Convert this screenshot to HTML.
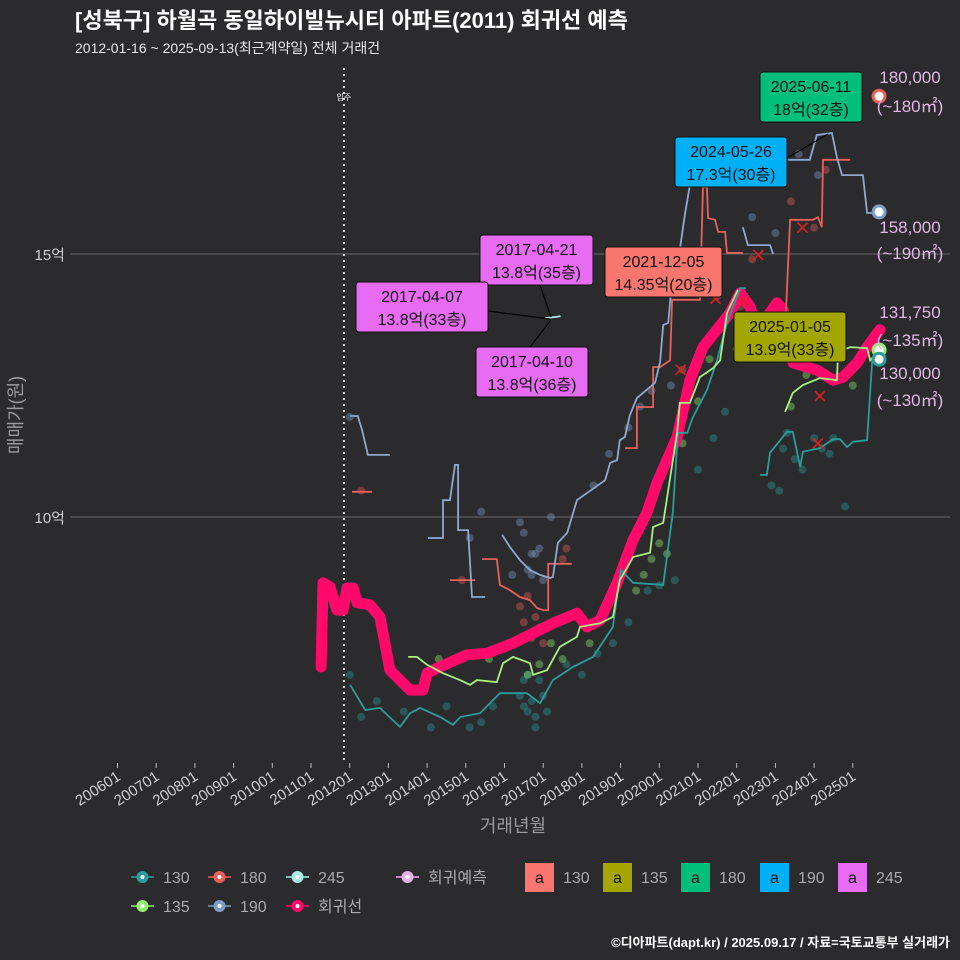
<!DOCTYPE html>
<html><head><meta charset="utf-8">
<style>
html,body{margin:0;padding:0;background:#2b2b2d;}
svg{display:block;font-family:"Liberation Sans","Noto Sans CJK KR",sans-serif;}
</style></head>
<body>
<svg id="chart" width="960" height="960" viewBox="0 0 960 960">
<rect width="960" height="960" fill="#2b2b2d"/>
<text x="75" y="28" fill="#ffffff" font-size="22" font-weight="bold">[성북구] 하월곡 동일하이빌뉴시티 아파트(2011) 회귀선 예측</text>
<text x="75" y="53" fill="#e8e8e8" font-size="14">2012-01-16 ~ 2025-09-13(최근계약일) 전체 거래건</text>
<g id="grid"></g>
<g id="marks"></g>
<g id="ann"></g>
<text transform="translate(22,415) rotate(-90)" text-anchor="middle" fill="#9a9a9a" font-size="18">매매가(원)</text>
<text x="513" y="832" text-anchor="middle" fill="#9a9a9a" font-size="18">거래년월</text>
<g id="legend"></g>
<text x="950" y="947" text-anchor="end" fill="#ffffff" font-size="13" font-weight="bold">©디아파트(dapt.kr) / 2025.09.17 / 자료=국토교통부 실거래가</text>
</svg>
<script>
// ---- data (year decimal, value in 억) ----
const yTicks=[10,15];
const yTickLabels=["10억","15억"];
const xTickYears=[2006,2007,2008,2009,2010,2011,2012,2013,2014,2015,2016,2017,2018,2019,2020,2021,2022,2023,2024,2025];
const xTickLabels=["200601","200701","200801","200901","201001","201101","201201","201301","201401","201501","201601","201701","201801","201901","202001","202101","202201","202301","202401","202501"];
const moveInYear=2011.85;

const regYears=[2011.26,2011.31,2011.49,2011.67,2011.83,2011.93,2012.09,2012.19,2012.52,2012.78,2012.86,2013.04,2013.30,2013.56,2013.89,2014.00,2014.33,2015.03,2015.55,2016.22,2016.74,2017.25,2017.87,2018.13,2018.47,2018.91,2019.32,2019.68,2019.94,2020.46,2020.79,2021.13,2021.49,2021.83,2022.09,2022.34,2022.53,2022.78,2023.04,2023.20,2023.46,2024.08,2024.49,2024.75,2025.11,2025.37,2025.70];
const regValues=[7.15,8.75,8.67,8.23,8.23,8.65,8.65,8.37,8.33,8.10,7.79,7.09,6.90,6.71,6.71,7.03,7.15,7.38,7.41,7.60,7.79,7.98,8.17,7.91,8.04,8.75,9.56,10.08,10.65,11.52,12.60,13.23,13.56,13.88,14.26,14.00,13.61,13.80,14.07,13.94,12.93,12.79,12.60,12.66,12.93,13.23,13.56];

const s130Years=[2012.01,2012.40,2012.78,2013.30,2013.56,2013.82,2014.33,2014.67,2014.86,2015.37,2015.88,2016.58,2016.92,2017.25,2017.77,2018.29,2018.80,2018.93,2019.01,2019.32,2020.10,2020.35,2020.48,2020.72,2020.87,2021.23,2021.49,2021.75,2022.09,2022.24,null,2022.60,2022.78,2022.86,2023.30,2023.45,2023.64,2023.71,2024.15,2024.49,2024.67,2024.85,2025.01,2025.37,2025.50,2025.68];
const s130Values=[6.81,6.33,6.37,6.01,6.27,6.37,6.20,6.05,6.20,6.27,6.65,6.65,6.46,6.90,7.15,7.34,7.91,8.61,8.99,8.75,8.71,10.08,11.60,11.60,11.90,12.41,12.98,13.69,14.35,14.35,null,10.80,10.80,11.22,11.62,11.62,10.95,11.24,11.31,11.48,11.48,11.33,11.43,11.46,12.98,13.00];

const s135Years=[2013.51,2013.74,2014.00,2014.41,2014.85,2015.11,2015.29,2015.80,2015.96,2016.22,2016.66,2016.74,2017.10,2017.43,2017.87,2017.95,2018.47,2018.80,2018.98,2019.24,2019.32,2019.76,2019.84,2020.10,2020.46,2020.53,2020.79,2021.05,2021.39,2021.57,2021.75,2022.03,null,2023.25,2023.45,2023.71,2024.15,2024.59,2024.62,2024.93,2025.37,2025.45,2025.68];
const s135Values=[7.34,7.34,7.19,7.03,6.90,6.81,6.90,6.86,7.22,7.34,7.22,7.00,7.09,7.53,7.72,7.91,7.98,8.10,8.80,9.13,9.24,9.32,9.81,9.89,11.60,12.17,12.17,12.66,12.83,12.98,13.88,14.32,null,12.00,12.36,12.51,12.64,12.60,13.14,13.23,13.21,12.98,13.175];

const s180Years=[2012.06,2012.58,null,2014.59,2015.24,null,2015.42,2015.80,2015.88,2016.14,2016.40,2016.66,2016.84,2017.00,2017.13,2017.13,2017.33,2017.74,null,2019.11,2019.42,2019.42,2019.55,2019.76,2019.84,2019.84,2020.02,2020.28,2020.33,2020.53,2021.05,2021.13,2021.23,2021.26,2021.44,2021.52,2021.70,2021.75,2022.16,null,2023.25,2023.38,2023.64,2023.97,2024.10,2024.20,2024.23,2024.49,2024.93];
const s180Values=[10.48,10.48,null,8.80,8.80,null,9.20,9.20,8.71,8.61,8.48,8.42,8.27,8.23,8.23,9.11,9.11,9.11,null,11.31,11.31,12.09,12.09,12.09,12.09,12.85,12.85,12.98,14.13,14.13,14.13,16.27,16.27,15.68,15.65,15.42,15.42,15.02,15.02,null,13.56,15.65,15.65,15.65,15.70,15.51,16.79,16.79,16.79];

const s190Years=[2012.01,2012.21,2012.32,2012.47,2013.04,null,2014.02,2014.41,2014.41,2014.59,2014.72,2014.80,2014.80,2015.06,2015.16,2015.50,null,2015.94,2016.14,2016.40,2016.66,2016.92,2017.18,2017.25,2017.38,2017.62,2017.87,2018.60,2018.73,2018.91,2018.98,2019.11,2019.24,2019.42,2019.76,2019.89,2020.02,2020.10,2020.23,2020.33,2020.53,2020.66,2020.79,2020.97,null,2022.16,2022.29,2022.86,2022.94,null,2023.33,2023.89,2024.07,2024.46,2024.59,2024.72,2025.26,2025.37,2025.68];
const s190Values=[11.92,11.92,11.65,11.18,11.18,null,9.60,9.60,10.32,10.32,10.99,10.99,9.75,9.75,8.48,8.48,null,9.66,9.43,9.18,8.99,8.90,8.84,8.86,9.51,9.70,10.32,10.70,11.03,11.08,11.46,11.52,11.94,12.26,12.47,12.55,12.95,13.65,13.69,14.51,15.08,15.74,16.31,16.79,null,15.51,15.17,15.17,15.00,null,16.79,16.79,17.26,17.30,16.84,16.50,16.50,15.78,15.78];

const s245Years=[2017.05,2017.27,2017.30,2017.45];
const s245Values=[13.78,13.8,13.8,13.82];

const dots130Years=[2012.0,2012.3,2012.7,2013.4,2014.1,2014.5,2015.1,2015.4,2015.7,2016.4,2016.5,2016.6,2016.7,2016.8,2016.9,2017.0,2016.6,2016.5,2017.1,2016.8,2017.6,2018.0,2018.4,2018.8,2019.2,2019.7,2020.0,2020.4,2021.0,2021.4,2021.7,2022.9,2023.2,2023.5,2023.7,2024.0,2024.2,2024.4,2023.3,2023.1,2024.8,2024.5];
const dots130Values=[7.0,6.2,6.5,6.3,6.0,6.4,6.0,6.1,6.4,6.6,6.9,6.3,6.5,6.2,6.9,6.6,7.0,6.4,6.3,6.0,7.2,7.0,7.4,7.6,8.0,8.6,8.7,8.8,10.9,11.5,12.0,10.6,11.3,11.1,10.9,11.5,11.3,11.2,11.6,10.5,10.2,11.5];
const dots135Years=[2014.3,2015.6,2016.0,2016.5,2016.6,2016.9,2017.2,2017.5,2018.2,2019.4,2019.6,2019.8,2020.0,2020.2,2020.6,2021.0,2021.3,2022.0,2023.4,2023.8,2024.3,2024.7,2025.0];
const dots135Values=[7.3,7.3,7.5,7.7,7.0,7.2,7.6,7.3,7.6,8.6,8.9,9.2,9.5,9.3,11.4,12.2,13.0,13.2,12.1,12.7,13.4,13.8,12.5];
const dots180Years=[2016.4,2016.6,2016.8,2016.5,2016.9,2016.7,2017.0,2017.5,2017.6,2014.9,2012.3,2020.6,2021.5,2022.1,2023.4,2024.0,2024.3,2022.4];
const dots180Values=[8.3,8.5,8.1,8.0,7.9,7.7,7.6,9.2,9.4,8.8,10.5,12.8,14.2,14.0,16.0,15.5,16.6,14.9];
const dots190Years=[2015.1,2015.4,2016.2,2016.4,2016.5,2016.6,2016.7,2016.8,2016.9,2017.0,2016.7,2017.2,2012.0,2018.3,2018.7,2019.2,2019.5,2019.8,2020.3,2021.2,2022.4,2023.0,2023.6,2024.1];
const dots190Values=[9.6,10.1,8.9,9.9,9.7,9.0,8.9,9.3,9.4,8.8,9.3,10.0,11.9,10.6,11.2,11.7,12.1,12.4,12.5,14.4,15.7,15.4,16.9,16.5];
const crossYears=[2020.55,2021.45,2022.56,2023.7,2024.15,2024.1,2022.2];
const crossValues=[12.8,14.15,14.98,15.5,12.3,11.4,14.1];

const endYears=[2025.68,2025.68,2025.68,2025.68];
const endValues=[18.0,15.8,13.175,13.0];
const endColors=["#e8605a","#7f9cc7","#90ee70","#2a9d9a"];

// ---- scales ----
const X=y=>117.5+(y-2006)*38.7;
const Y=v=>517-(v-10)*52.6;
const NS="http://www.w3.org/2000/svg";
function mk(tag,attrs,parent){const e=document.createElementNS(NS,tag);for(const k in attrs)e.setAttribute(k,attrs[k]);parent.appendChild(e);return e;}
const grid=document.getElementById('grid'),marks=document.getElementById('marks'),ann=document.getElementById('ann'),legend=document.getElementById('legend');

yTicks.forEach((v,i)=>{
  const l=mk('line',{x1:70,x2:950,y1:Y(v),y2:Y(v),stroke:'#6a6a6a','stroke-width':1},grid);
  
  
  const t=mk('text',{x:65,y:Y(v)+6,'text-anchor':'end',fill:'#cfcfcf','font-size':15},grid);
  t.textContent=yTickLabels[i];
  
  
});
xTickYears.forEach((yr,i)=>{
  const tk=mk('line',{x1:X(yr),x2:X(yr),y1:763,y2:768,stroke:'#bbbbbb'},grid);
  
  
  const t=mk('text',{transform:`translate(${X(yr)+4},${779}) rotate(-33)`,'text-anchor':'end',fill:'#cfcfcf','font-size':15},grid);
  t.textContent=xTickLabels[i];
  
  
});
const mv=mk('line',{x1:X(moveInYear),x2:X(moveInYear),y1:68,y2:762,stroke:'#dddddd','stroke-width':2,'stroke-dasharray':'2,4'},grid);


const mvt=mk('text',{x:X(moveInYear),y:100,'text-anchor':'middle',fill:'#ffffff','font-size':8},grid);
mvt.textContent='입주';



function pathOf(xs,vs){let d='',pen=false;xs.forEach((x,i)=>{if(x===null||vs[i]===null){pen=false;return;}d+=(pen?'L':'M')+X(x).toFixed(1)+','+Y(vs[i]).toFixed(1);pen=true;});return d;}
function dots(xs,vs,color,name){xs.forEach((x,i)=>{const c=mk('circle',{cx:X(x),cy:Y(vs[i]),r:4,fill:color,'fill-opacity':0.4},marks);});}
dots(dots130Years,dots130Values,'#2a9d9a','dot-130');
dots(dots135Years,dots135Values,'#90ee70','dot-135');
dots(dots180Years,dots180Values,'#e8605a','dot-180');
dots(dots190Years,dots190Values,'#7f9cc7','dot-190');

const reg=mk('path',{d:pathOf(regYears,regValues),fill:'none',stroke:'#ff0a6a','stroke-width':11,'stroke-linejoin':'round','stroke-linecap':'round'},marks);


[[s130Years,s130Values,'#2a9d9a','line-130'],[s135Years,s135Values,'#a8f080','line-135'],[s180Years,s180Values,'#e8605a','line-180'],[s190Years,s190Values,'#8fa8d0','line-190'],[s245Years,s245Values,'#a8ece4','line-245']].forEach(s=>{
  const p=mk('path',{d:pathOf(s[0],s[1]),fill:'none',stroke:s[2],'stroke-width':1.8},marks);
  
  
});
crossYears.forEach((x,i)=>{
  const cx=X(x),cy=Y(crossValues[i]);
  const p=mk('path',{d:`M${cx-5},${cy-5}L${cx+5},${cy+5}M${cx-5},${cy+5}L${cx+5},${cy-5}`,stroke:'#e02020','stroke-width':1.6},marks);
  
  
});
endYears.forEach((x,i)=>{
  const c=mk('circle',{cx:X(x),cy:Y(endValues[i]),r:6,fill:'#ffffff',stroke:endColors[i],'stroke-width':3},marks);
  
  
});

// right labels
const rl=[["180,000",83],["(~180㎡)",112],["158,000",233],["(~190㎡)",259],["131,750",318],["(~135㎡)",346],["130,000",379],["(~130㎡)",406]];
rl.forEach(r=>{const t=mk('text',{x:910,y:r[1],'text-anchor':'middle',fill:'#e2b6e6','font-size':17},ann);t.textContent=r[0];});

// annotation boxes
const leaders=[[787,158,828,134],[488,311,550,319],[540,285,551,317],[530,347,551,320]];
leaders.forEach(l=>{const e=mk('line',{x1:l[0],y1:l[1],x2:l[2],y2:l[3],stroke:'#000','stroke-width':1.2},ann);});
const boxes=[[760,72,102,50,'#00bf7d','2025-06-11','18억(32층)'],[675,137,112,50,'#00b0f6','2024-05-26','17.3억(30층)'],[605,247,117,50,'#f8766d','2021-12-05','14.35억(20층)'],[734,312,112,50,'#a3a500','2025-01-05','13.9억(33층)'],[480,235,113,50,'#e76bf3','2017-04-21','13.8억(35층)'],[356,282,132,50,'#e76bf3','2017-04-07','13.8억(33층)'],[476,347,112,50,'#e76bf3','2017-04-10','13.8억(36층)']];
boxes.forEach(b=>{
  const g=mk('g',{},ann);
  
  
  mk('rect',{x:b[0],y:b[1],width:b[2],height:b[3],rx:3,fill:b[4],stroke:'#111','stroke-width':1},g);
  const t1=mk('text',{x:b[0]+b[2]/2,y:b[1]+20,'text-anchor':'middle',fill:'#111','font-size':16},g);t1.textContent=b[5];
  const t2=mk('text',{x:b[0]+b[2]/2,y:b[1]+43,'text-anchor':'middle',fill:'#111','font-size':16},g);t2.textContent=b[6];
});

// legend
const lg=[[130,877,'#2a9d9a','130'],[207,877,'#e8605a','180'],[285,877,'#a8ece4','245'],[395,877,'#e6b0ea','회귀예측'],[130,906,'#90ee70','135'],[207,906,'#7f9cc7','190'],[285,906,'#ff0a6a','회귀선']];
lg.forEach(l=>{
  const g=mk('g',{},legend);
  
  
  mk('line',{x1:l[0]+1,x2:l[0]+24,y1:l[1],y2:l[1],stroke:l[2],'stroke-width':1.5},g);
  mk('circle',{cx:l[0]+12.5,cy:l[1],r:6,fill:l[2]},g);
  mk('circle',{cx:l[0]+12.5,cy:l[1],r:2,fill:'#ffffff'},g);
  const t=mk('text',{x:l[0]+33,y:l[1]+6,fill:'#aaaaaa','font-size':16},g);t.textContent=l[3];
});
const lb=[[525,'#f8766d','130'],[603,'#a3a500','135'],[681,'#00bf7d','180'],[760,'#00b0f6','190'],[838,'#e76bf3','245']];
lb.forEach(l=>{
  const g=mk('g',{},legend);
  
  
  mk('rect',{x:l[0],y:863,width:29,height:29,fill:l[1]},g);
  const a=mk('text',{x:l[0]+14.5,y:883,'text-anchor':'middle',fill:'#111','font-size':16},g);a.textContent='a';
  const t=mk('text',{x:l[0]+38,y:883,fill:'#aaaaaa','font-size':16},g);t.textContent=l[2];
});
</script>
</body></html>
